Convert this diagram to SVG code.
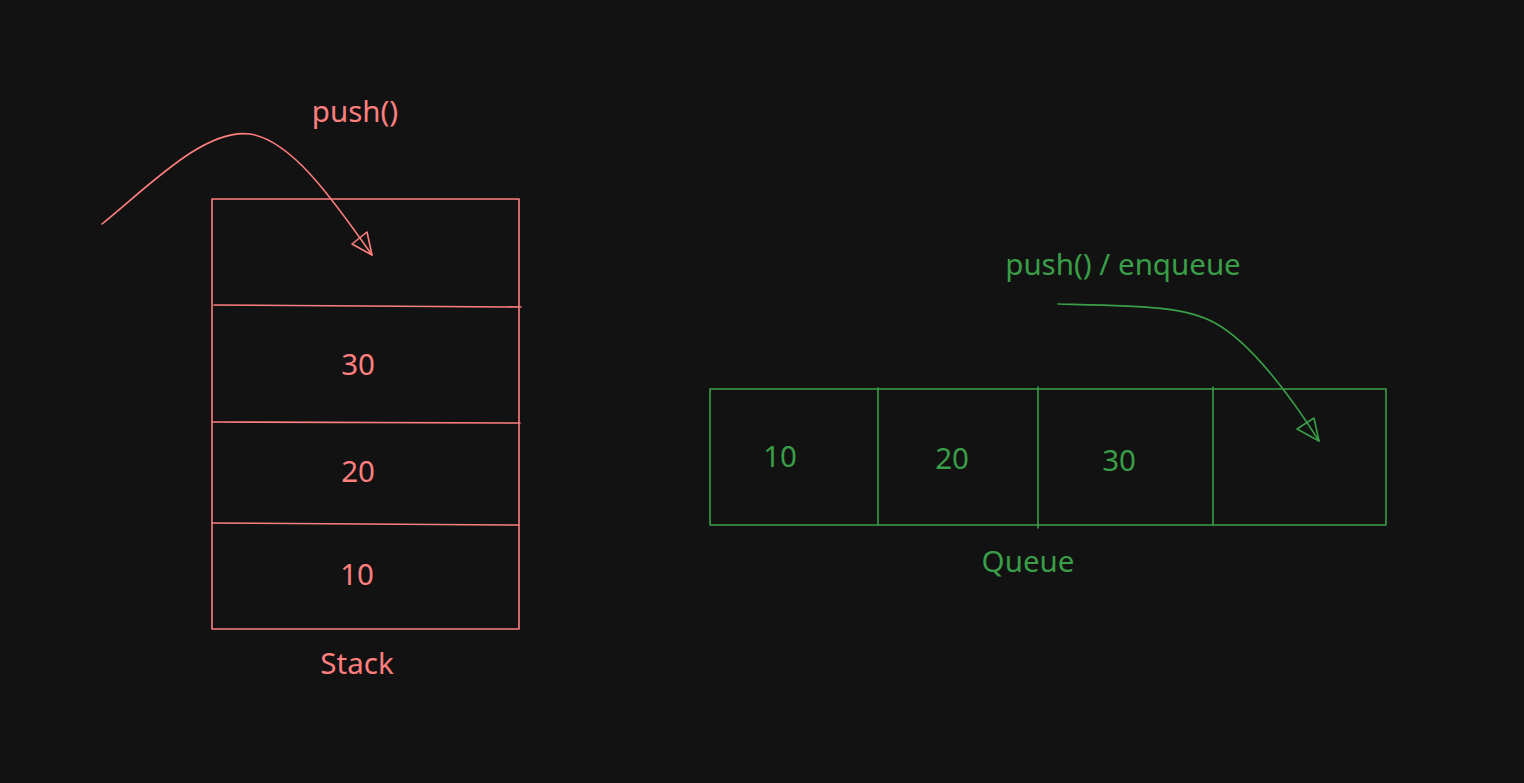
<svg xmlns="http://www.w3.org/2000/svg" width="1524" height="783" viewBox="0 0 1524 783">
<style>
.r{stroke:#ff7f7f;fill:none;stroke-width:1.6;stroke-linecap:round;stroke-linejoin:round}
.g{stroke:#3a9e48;fill:none;stroke-width:1.6;stroke-linecap:round;stroke-linejoin:round}
.tr{fill:#ff7f7f;font-family:"Noto Sans","Liberation Sans",sans-serif;font-size:29.5px;text-anchor:middle}
.tg{fill:#3a9e48;font-family:"Noto Sans","Liberation Sans",sans-serif;font-size:29.5px;text-anchor:middle}
</style>
<rect width="1524" height="783" fill="#121212"/>
<g id="stack">
<rect class="r" x="212" y="199" width="307" height="430"/>
<path class="r" d="M214,305 L521,307"/>
<path class="r" d="M212,422 L520,423"/>
<path class="r" d="M212,523 L519,525"/>
<text class="tr" x="358" y="375">30</text>
<text class="tr" x="358" y="482">20</text>
<text class="tr" x="357" y="585">10</text>
<text class="tr" x="357" y="674">Stack</text>
</g>
<g id="push-label">
<text class="tr" x="355" y="122">push()</text>
</g>
<g id="queue">
<rect class="g" x="710" y="389" width="676" height="136"/>
<path class="g" d="M878,388 L878,525"/>
<path class="g" d="M1038,387 L1038,528"/>
<path class="g" d="M1213,387 L1213,525"/>
<text class="tg" x="780" y="467">10</text>
<text class="tg" x="952" y="469">20</text>
<text class="tg" x="1119" y="471">30</text>
<text class="tg" x="1028" y="572">Queue</text>
</g>
<g id="enqueue-label">
<text class="tg" x="1123" y="275">push() / enqueue</text>
</g>
<g id="connectors">
<path class="r" d="M102,224 C150,185 205,128 250,134 C290,140 330,195 372,255"/>
<path class="r" d="M372,255 L352,244 L367,232 Z"/>
<path class="g" d="M1058,304 C1140,306 1185,306 1215,323 C1250,342 1290,395 1319,441"/>
<path class="g" d="M1319,441 L1297,429 L1314,418 Z"/>
</g>
</svg>
